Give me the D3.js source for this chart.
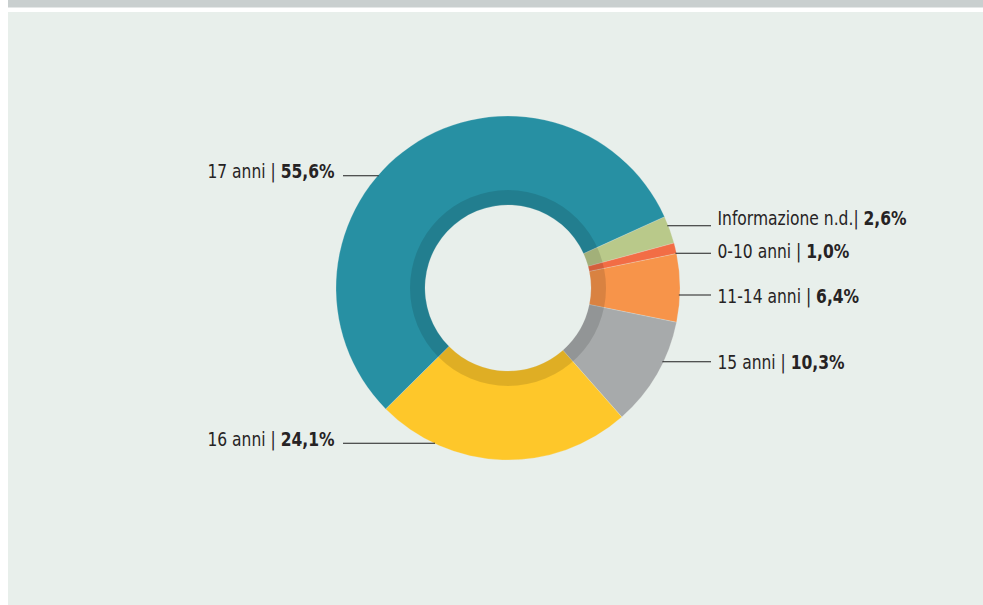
<!DOCTYPE html>
<html><head><meta charset="utf-8">
<script src="https://cdn.jsdelivr.net/npm/d3@7"></script>
<style>
html,body{margin:0;padding:0;background:#ffffff;}
svg{display:block;}
</style></head>
<body>
<svg id="chart" width="983" height="605"></svg>
<script>
const categories = ["Informazione n.d.", "0-10 anni", "11-14 anni", "15 anni", "16 anni", "17 anni"];
const values = [2.6, 1.0, 6.4, 10.3, 24.1, 55.6];
const valueLabels = ["2,6%", "1,0%", "6,4%", "10,3%", "24,1%", "55,6%"];
const colors = ["#b9c98a", "#f26d45", "#f7944a", "#a7aaab", "#fec72a", "#2790a3"];
// label layout: side, leader line y and text baseline y
const labelSide = ["right", "right", "right", "right", "left", "left"];
const lineY = [225.7, 253.2, 295, 361.7, 443.3, 175.7];
const textY = [225, 258, 303, 369, 446, 178];

const W = 983, H = 605;
const cx = 508, cy = 288, R = 172, r = 83, ringR = 98;
const svg = d3.select("#chart");

svg.append("rect").attr("x", 8).attr("y", 0).attr("width", W - 8).attr("height", 7.5).attr("fill", "#c9cfcf");
svg.append("rect").attr("x", 8).attr("y", 12).attr("width", W - 8).attr("height", H - 12).attr("fill", "#e8efeb");

const start = 65.5 * Math.PI / 180;
const pie = d3.pie().sort(null).value(d => d).startAngle(start).endAngle(start + 2 * Math.PI);
const arcs = pie(values);
const arc = d3.arc().innerRadius(r).outerRadius(R);

const g = svg.append("g").attr("transform", `translate(${cx},${cy})`);
g.selectAll("path.slice").data(arcs).join("path")
  .attr("class", "slice")
  .attr("d", arc)
  .attr("fill", (d, i) => colors[i])
  .attr("stroke", "#e8efeb").attr("stroke-width", 0.4).attr("stroke-opacity", 0.6);

// darker inner ring
g.append("path")
  .attr("d", d3.arc().innerRadius(r).outerRadius(ringR).startAngle(0).endAngle(2 * Math.PI)())
  .attr("fill", "#000").attr("fill-opacity", 0.12);

// labels
const fontFam = "'DejaVu Sans Condensed','Liberation Sans Narrow',Roboto,sans-serif";
categories.forEach((c, i) => {
  const y = lineY[i];
  const dy = y - cy;
  const dx = Math.sqrt(Math.max(0, R * R - dy * dy));
  let x1, x2, tx, anchor;
  if (labelSide[i] === "right") {
    x1 = cx + dx - 1; x2 = 711; tx = 717.5; anchor = "start";
  } else {
    x1 = 343; x2 = cx - dx + 1; tx = 334.5; anchor = "end";
  }
  svg.append("line").attr("x1", x1).attr("x2", x2).attr("y1", y).attr("y2", y)
    .attr("stroke", "#1e1e1e").attr("stroke-width", 1.1);
  const sep = c === "Informazione n.d." ? "| " : " | ";
  const t = svg.append("text")
    .attr("transform", `translate(${tx},${textY[i]}) scale(0.885,1)`)
    .attr("text-anchor", anchor)
    .attr("font-family", fontFam).attr("font-size", 19.5).attr("fill", "#262324");
  t.append("tspan").text(c + sep);
  t.append("tspan").attr("font-weight", "bold").text(valueLabels[i]);
});
</script>
</body></html>
